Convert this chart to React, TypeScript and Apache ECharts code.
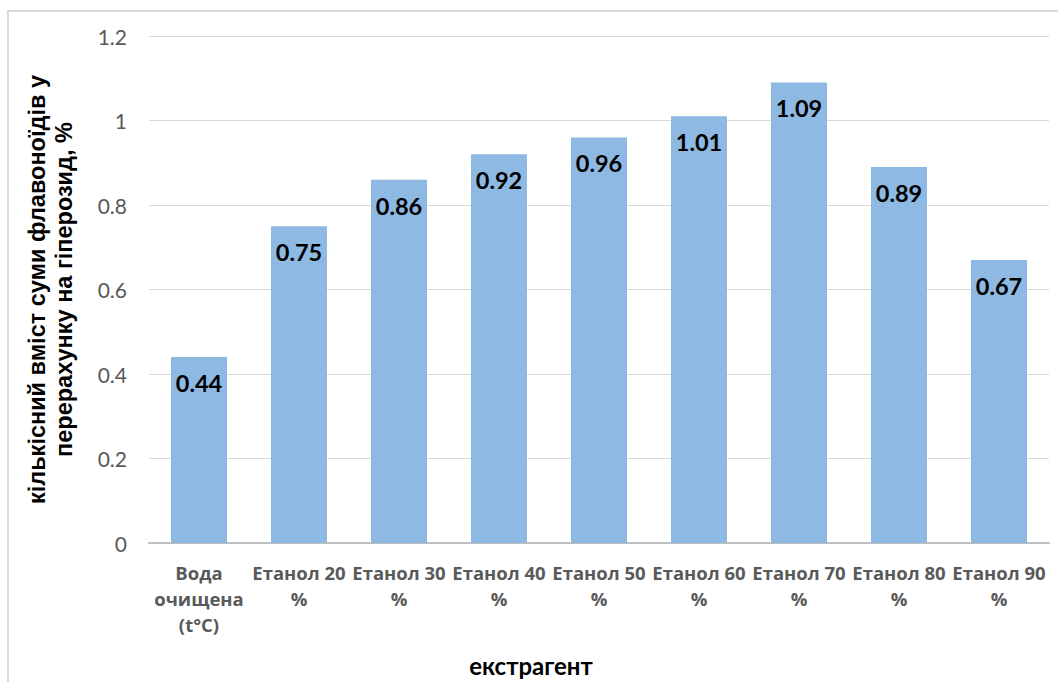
import React, { useEffect, useRef } from "react";
import * as echarts from "echarts";

const categories = [
  "Вода\nочищена\n(t°C)",
  "Етанол 20\n%",
  "Етанол 30\n%",
  "Етанол 40\n%",
  "Етанол 50\n%",
  "Етанол 60\n%",
  "Етанол 70\n%",
  "Етанол 80\n%",
  "Етанол 90\n%",
];
const values = [0.44, 0.75, 0.86, 0.92, 0.96, 1.01, 1.09, 0.89, 0.67];

const yTitle = "кількісний вміст суми флавоноїдів у\nперерахунку на гіперозид, %";
const xTitle = "екстрагент";

export default function App() {
  const ref = useRef<HTMLDivElement>(null);

  useEffect(() => {
    if (!ref.current) return;
    const chart = echarts.init(ref.current, null, { renderer: "svg" });
    chart.setOption({
      animation: false,
      backgroundColor: "#ffffff",
      graphic: [
        {
          type: "rect",
          shape: { x: 8, y: 11, width: 1100, height: 720 },
          style: { fill: "none", stroke: "#d9d9d9", lineWidth: 2 },
          silent: true,
        },
      ],
      grid: { left: 149, width: 900, top: 36, height: 507 },
      xAxis: {
        type: "category",
        data: categories,
        name: xTitle,
        nameLocation: "middle",
        nameGap: 110,
        nameTextStyle: {
          fontFamily: "Lato",
          fontWeight: "bold",
          fontSize: 24,
          color: "#000000",
          // the title sits centred on the whole chart box, left of the plot centre
          padding: [0, 136, 0, 0],
        },
        axisTick: { show: false },
        axisLine: { lineStyle: { color: "#bfbfbf", width: 2 } },
        axisLabel: {
          interval: 0,
          margin: 16,
          fontFamily: "Open Sans",
          fontWeight: "bold",
          fontSize: 18.5,
          lineHeight: 26,
          color: "#595959",
        },
      },
      yAxis: {
        type: "value",
        min: 0,
        max: 1.2,
        interval: 0.2,
        name: yTitle,
        nameLocation: "middle",
        nameRotate: 90,
        nameGap: 72,
        nameTextStyle: {
          fontFamily: "Liberation Sans",
          fontWeight: "bold",
          fontSize: 23.5,
          lineHeight: 27,
          color: "#000000",
        },
        axisLine: { show: false },
        axisTick: { show: false },
        splitLine: { lineStyle: { color: "#d9d9d9", width: 1 } },
        axisLabel: {
          margin: 22,
          fontFamily: "Lato",
          fontSize: 21,
          color: "#595959",
        },
      },
      series: [
        {
          type: "bar",
          data: values,
          barWidth: "56%",
          itemStyle: { color: "#8db9e2" },
          label: {
            show: true,
            position: "insideTop",
            distance: 14,
            fontFamily: "Lato",
            fontWeight: "bold",
            fontSize: 23.5,
            color: "#000000",
          },
        },
      ],
    });
    return () => chart.dispose();
  }, []);

  return (
    <div
      ref={ref}
      style={{ position: "fixed", left: 0, top: 0, width: 1058, height: 682 }}
    />
  );
}
